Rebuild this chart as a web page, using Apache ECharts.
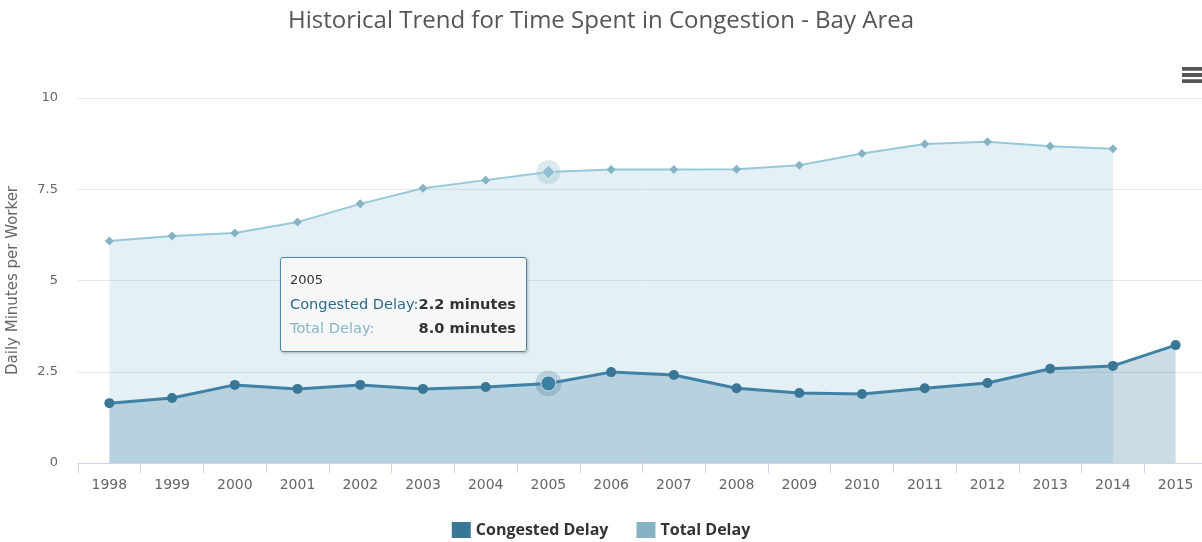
<!DOCTYPE html>
<html>
<head>
<meta charset="utf-8">
<script src="https://cdn.jsdelivr.net/npm/echarts@6/dist/echarts.min.js"></script>
<style>
  html, body { margin: 0; padding: 0; background: #fff; }
  #chart { width: 1202px; height: 542px; }
</style>
</head>
<body>
<div id="chart"></div>
<script>
const years = ['1998', '1999', '2000', '2001', '2002', '2003', '2004', '2005', '2006',
  '2007', '2008', '2009', '2010', '2011', '2012', '2013', '2014', '2015'];
const congestedDelay = [1.64, 1.78, 2.14, 2.03, 2.14, 2.03, 2.08, 2.18, 2.49,
  2.41, 2.05, 1.92, 1.89, 2.05, 2.19, 2.58, 2.66, 3.23];
const totalDelay = [6.08, 6.22, 6.30, 6.60, 7.10, 7.53, 7.75, 7.97, 8.04,
  8.04, 8.05, 8.16, 8.48, 8.74, 8.80, 8.68, 8.61, null];
const yTicks = [0, 2.5, 5, 7.5, 10];
const focusIndex = 7;

const darkBlue = '#2e6b8a';
const lightBlue = '#8ab6c7';
const titleFont = 'Open Sans';
const bodyFont = 'DejaVu Sans';

const chart = echarts.init(document.getElementById('chart'));

function halo(values, color, size) {
  return {
    symbol: 'circle',
    symbolSize: size,
    silent: true,
    label: { show: false },
    itemStyle: { color: color },
    data: [{ coord: [focusIndex, values[focusIndex]] }]
  };
}

const option = {
  animation: false,
  textStyle: { fontFamily: bodyFont },
  title: {
    text: 'Historical Trend for Time Spent in Congestion - Bay Area',
    left: 'center',
    top: 4,
    textStyle: { fontSize: 24, fontWeight: 'normal', color: '#555', fontFamily: titleFont }
  },
  toolbox: {
    right: 0,
    top: 67,
    padding: 0,
    itemSize: 20,
    feature: {
      myMenu: {
        show: true,
        title: '',
        icon: 'path://M0,0H20V3.8H0Z M0,6.1H20V9.9H0Z M0,12.2H20V16H0Z',
        onclick: () => {}
      }
    },
    iconStyle: { color: '#555', borderColor: '#555', borderWidth: 0 }
  },
  tooltip: {
    trigger: 'axis',
    triggerOn: 'none',
    alwaysShowContent: true,
    axisPointer: { type: 'none' },
    position: [280, 257],
    backgroundColor: 'rgba(247,247,247,0.92)',
    borderColor: '#4d88a6',
    borderWidth: 1,
    padding: [9, 10, 11, 9],
    extraCssText: 'border-radius:3px;box-shadow:1px 1px 3px rgba(0,0,0,0.25);',
    formatter: (params) => {
      const i = params[0].dataIndex;
      const c = congestedDelay[i];
      const t = totalDelay[i];
      return '<div style="font-family:' + bodyFont + ';font-size:13px;color:#333;line-height:25px">' + years[i] + '</div>' +
        '<table style="font-family:' + bodyFont + ';font-size:14.6px;border-collapse:collapse;line-height:24px">' +
        '<tr><td style="color:' + darkBlue + ';padding:0">Congested Delay:</td>' +
        '<td style="text-align:right;font-weight:bold;color:#333;padding:0">' + c.toFixed(1) + ' minutes</td></tr>' +
        '<tr><td style="color:' + lightBlue + ';padding:0">Total Delay:</td>' +
        '<td style="text-align:right;font-weight:bold;color:#333;padding:0">' + t.toFixed(1) + ' minutes</td></tr>' +
        '</table>';
    }
  },
  legend: {
    top: 517,
    left: 'center',
    icon: 'rect',
    itemWidth: 19,
    itemHeight: 16,
    itemGap: 28,
    textStyle: { fontSize: 16, fontWeight: 'bold', color: '#333', fontFamily: titleFont },
    data: ['Congested Delay', 'Total Delay']
  },
  grid: {
    left: 78,
    top: 98,
    width: 1129,
    height: 365,
    outerBoundsMode: 'none'
  },
  xAxis: {
    type: 'category',
    data: years,
    boundaryGap: true,
    axisLine: { lineStyle: { color: '#ccd6eb' } },
    axisTick: { show: true, length: 10, lineStyle: { color: '#ccd6eb' } },
    axisLabel: { color: '#666', fontSize: 14, margin: 15, interval: 0 },
    splitLine: { show: false }
  },
  yAxis: {
    type: 'value',
    min: yTicks[0],
    max: yTicks[yTicks.length - 1],
    interval: 2.5,
    name: 'Daily Minutes per Worker',
    nameLocation: 'middle',
    nameGap: 57,
    nameTextStyle: { color: '#666', fontSize: 15 },
    axisLine: { show: false },
    axisTick: { show: false },
    axisLabel: { color: '#666', fontSize: 13, margin: 20 },
    splitLine: { lineStyle: { color: '#e6e6e6' } }
  },
  series: [
    {
      name: 'Congested Delay',
      type: 'line',
      data: congestedDelay,
      z: 4,
      symbol: 'circle',
      symbolSize: 10,
      color: darkBlue,
      lineStyle: { width: 3, color: '#3a7797' },
      itemStyle: { color: '#3a7797' },
      areaStyle: { color: darkBlue, opacity: 0.25 },
      emphasis: {
        scale: 1.5,
        itemStyle: { borderColor: '#fff', borderWidth: 1 },
        lineStyle: { width: 3 }
      },
      markPoint: halo(congestedDelay, 'rgba(58,119,151,0.25)', 26)
    },
    {
      name: 'Total Delay',
      type: 'line',
      data: totalDelay,
      z: 3,
      symbol: 'diamond',
      symbolSize: 9,
      color: lightBlue,
      lineStyle: { width: 2, color: '#8ab6c7' },
      itemStyle: { color: '#85b3c4' },
      areaStyle: { color: lightBlue, opacity: 0.27 },
      emphasis: {
        scale: 1.5,
        itemStyle: { borderColor: '#fff', borderWidth: 1 },
        lineStyle: { width: 2 }
      },
      markPoint: halo(totalDelay, 'rgba(138,182,199,0.3)', 24)
    }
  ]
};

chart.setOption(option);
chart.dispatchAction({ type: 'showTip', seriesIndex: 0, dataIndex: focusIndex });
chart.dispatchAction({ type: 'highlight', seriesIndex: [0, 1], dataIndex: focusIndex });

window.addEventListener('resize', () => chart.resize());
</script>
</body>
</html>
